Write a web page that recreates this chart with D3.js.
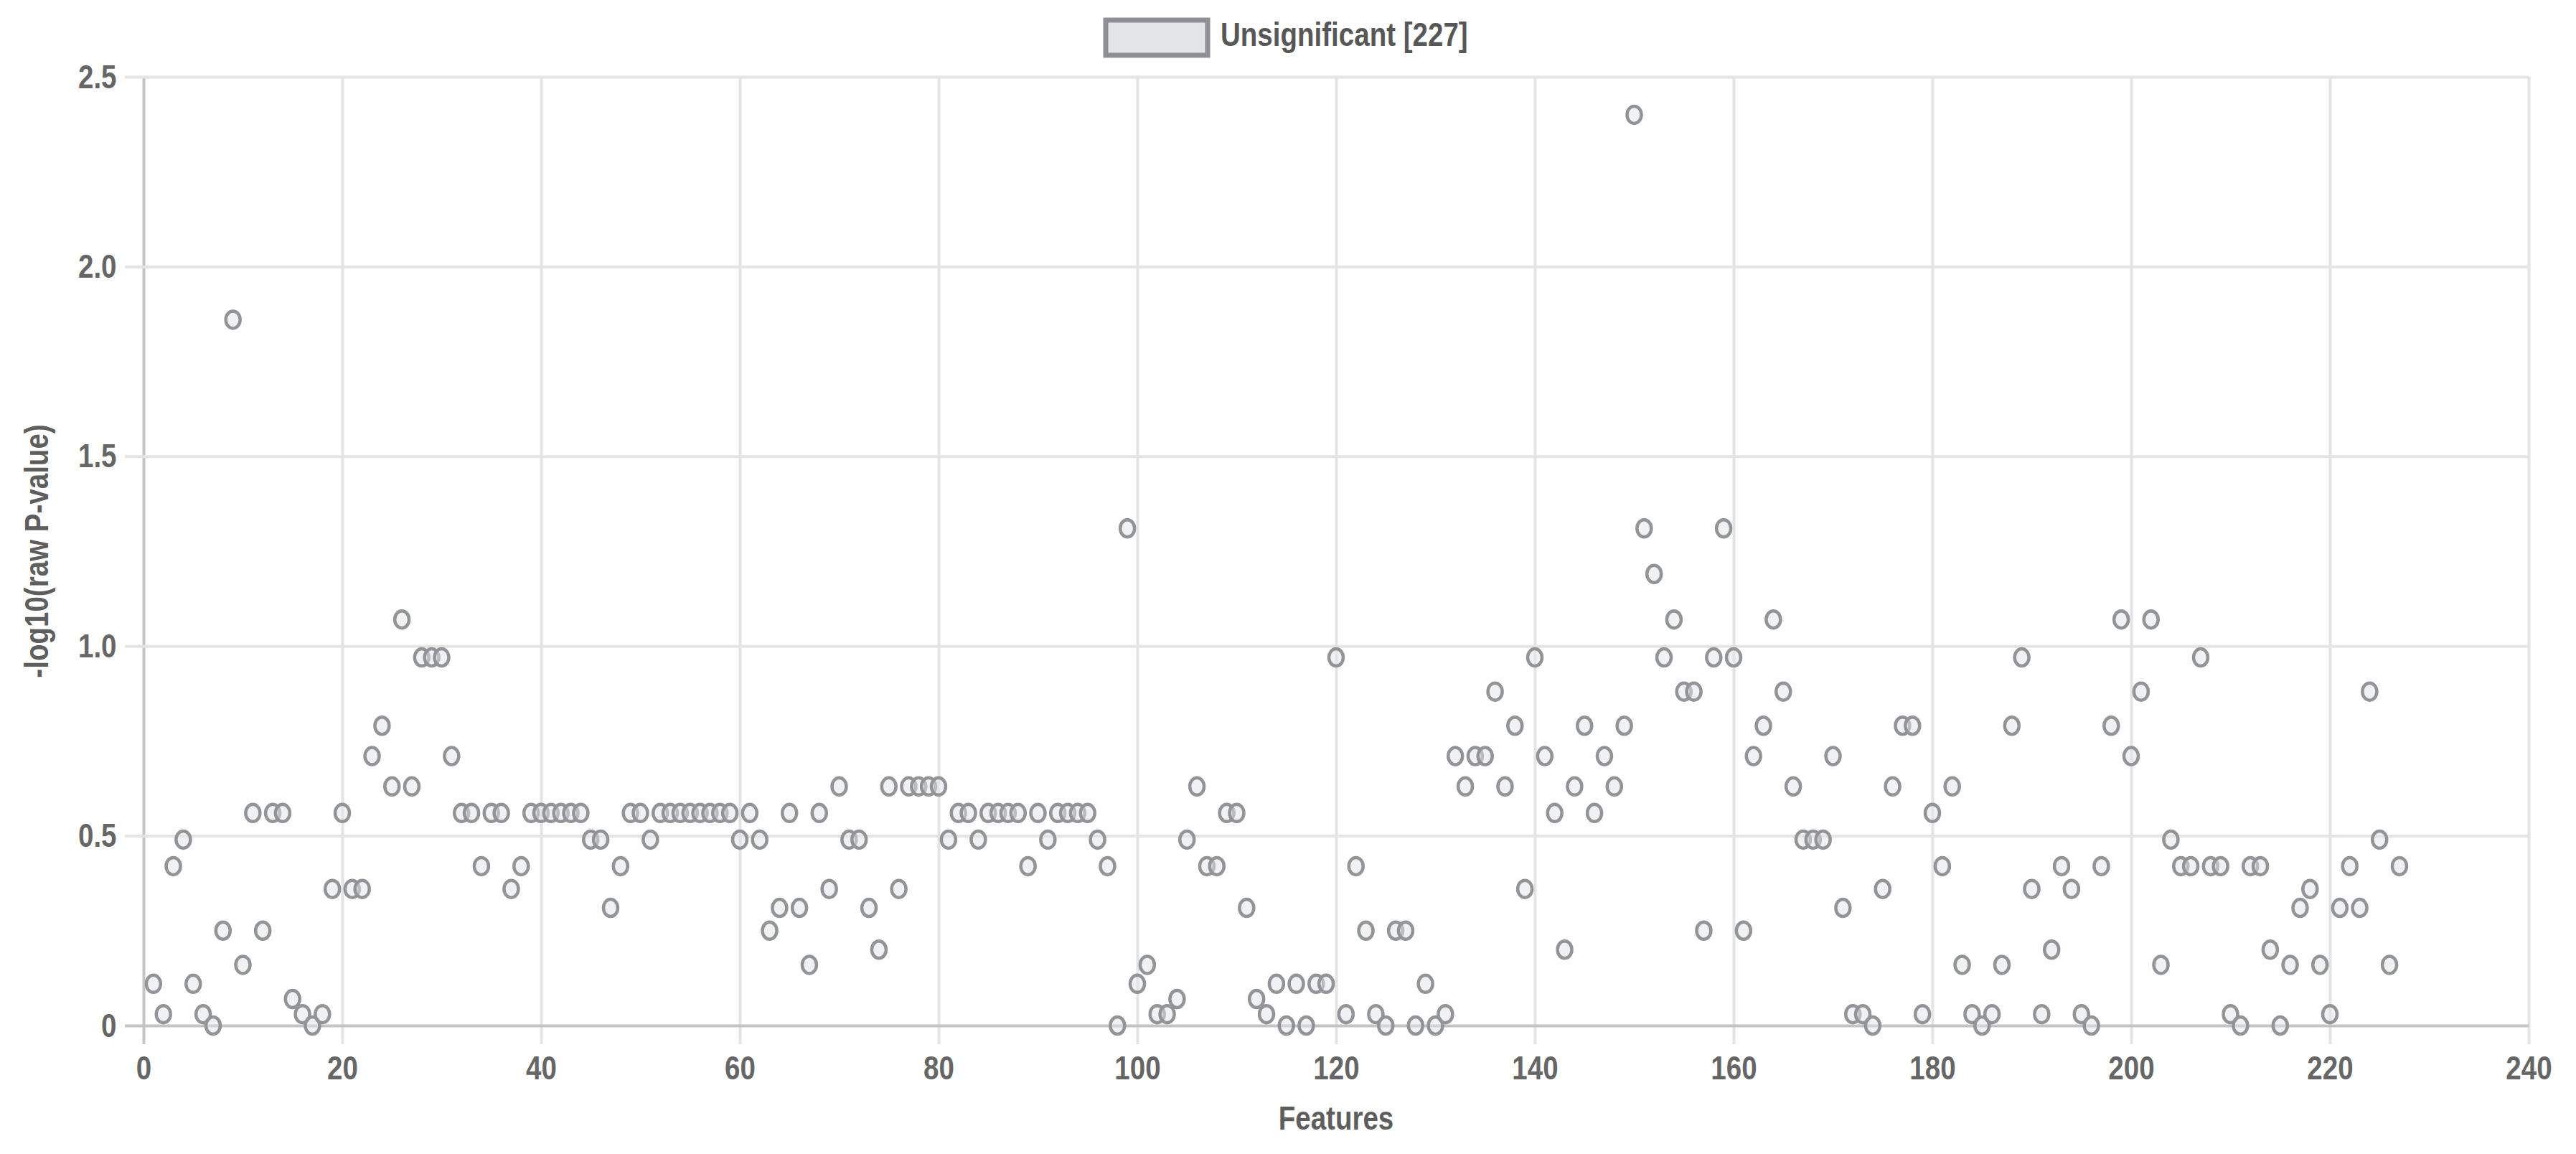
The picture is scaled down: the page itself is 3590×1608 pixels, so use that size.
<!DOCTYPE html>
<html>
<head>
<meta charset="utf-8">
<script src="https://cdn.jsdelivr.net/npm/d3@7/dist/d3.min.js"></script>
<style>
    html, body { margin: 0; padding: 0; background: #fff; }
    text { font-family: "Liberation Sans", Arial, Helvetica, sans-serif; }
</style>
</head>
<body>
<div id="chart"></div>
<script>
// -log10(raw P-value) for features 1..227
const pvalues = [
    0.11, 0.03, 0.42, 0.49, 0.11, 0.03, 0, 0.25, 1.86, 0.16,
    0.56, 0.25, 0.56, 0.56, 0.07, 0.03, 0, 0.03, 0.36, 0.56,
    0.36, 0.36, 0.71, 0.79, 0.63, 1.07, 0.63, 0.97, 0.97, 0.97,
    0.71, 0.56, 0.56, 0.42, 0.56, 0.56, 0.36, 0.42, 0.56, 0.56,
    0.56, 0.56, 0.56, 0.56, 0.49, 0.49, 0.31, 0.42, 0.56, 0.56,
    0.49, 0.56, 0.56, 0.56, 0.56, 0.56, 0.56, 0.56, 0.56, 0.49,
    0.56, 0.49, 0.25, 0.31, 0.56, 0.31, 0.16, 0.56, 0.36, 0.63,
    0.49, 0.49, 0.31, 0.2, 0.63, 0.36, 0.63, 0.63, 0.63, 0.63,
    0.49, 0.56, 0.56, 0.49, 0.56, 0.56, 0.56, 0.56, 0.42, 0.56,
    0.49, 0.56, 0.56, 0.56, 0.56, 0.49, 0.42, 0, 1.31, 0.11,
    0.16, 0.03, 0.03, 0.07, 0.49, 0.63, 0.42, 0.42, 0.56, 0.56,
    0.31, 0.07, 0.03, 0.11, 0, 0.11, 0, 0.11, 0.11, 0.97,
    0.03, 0.42, 0.25, 0.03, 0, 0.25, 0.25, 0, 0.11, 0,
    0.03, 0.71, 0.63, 0.71, 0.71, 0.88, 0.63, 0.79, 0.36, 0.97,
    0.71, 0.56, 0.2, 0.63, 0.79, 0.56, 0.71, 0.63, 0.79, 2.4,
    1.31, 1.19, 0.97, 1.07, 0.88, 0.88, 0.25, 0.97, 1.31, 0.97,
    0.25, 0.71, 0.79, 1.07, 0.88, 0.63, 0.49, 0.49, 0.49, 0.71,
    0.31, 0.03, 0.03, 0, 0.36, 0.63, 0.79, 0.79, 0.03, 0.56,
    0.42, 0.63, 0.16, 0.03, 0, 0.03, 0.16, 0.79, 0.97, 0.36,
    0.03, 0.2, 0.42, 0.36, 0.03, 0, 0.42, 0.79, 1.07, 0.71,
    0.88, 1.07, 0.16, 0.49, 0.42, 0.42, 0.97, 0.42, 0.42, 0.03,
    0, 0.42, 0.42, 0.2, 0, 0.16, 0.31, 0.36, 0.16, 0.03,
    0.31, 0.42, 0.31, 0.88, 0.49, 0.16, 0.42
]
const features = d3.range(1, pvalues.length + 1)

const xTicks = d3.range(0, 241, 20)
const yTicks = [0, 0.5, 1.0, 1.5, 2.0, 2.5]

const legendLabel = "Unsignificant [" + pvalues.length + "]"
const xTitle = "Features"
const yTitle = "-log10(raw P-value)"

const width = 3590
const height = 1608
const margin = {top: 107, right: 66, bottom: 179, left: 200}
const tickLen = 26
// the original picture is squeezed sideways, so squeeze the glyphs too
const squeeze = "scale(0.82,1)"

const x = d3.scaleLinear()
    .domain([0, 240])
    .range([margin.left, width - margin.right])

const y = d3.scaleLinear()
    .domain([0, 2.5])
    .range([height - margin.bottom, margin.top])

const plotW = x.range()[1] - x.range()[0]
const plotH = y.range()[0] - y.range()[1]

const svg = d3.select("#chart").append("svg")
    .attr("width", width)
    .attr("height", height)
    .attr("viewBox", [0, 0, width, height])

// vertical grid + x ticks (lines reach a bit below the plot like chart.js)
const gx = svg.append("g")
    .attr("transform", `translate(0,${y(0) + tickLen})`)
    .call(d3.axisBottom(x)
        .tickValues(xTicks)
        .tickSize(-(plotH + tickLen))
        .tickPadding(16)
        .tickFormat(d3.format("d")))

// horizontal grid + y ticks
const gy = svg.append("g")
    .attr("transform", `translate(${x(0) - tickLen},0)`)
    .call(d3.axisLeft(y)
        .tickValues(yTicks)
        .tickSize(-(plotW + tickLen))
        .tickPadding(14)
        .tickFormat(d => d === 0 ? "0" : d.toFixed(1)))

for (const g of [gx, gy]) {
    g.select(".domain").remove()
    g.selectAll(".tick line")
        .attr("stroke", d => d === 0 ? "#c4c4c4" : "#e4e4e4")
        .attr("stroke-width", 4)
    g.selectAll(".tick text")
        .attr("fill", "#666")
        .attr("font-size", 47)
        .attr("font-weight", "bold")
        .attr("transform", squeeze)
}

// zero lines on top of other grid lines
gx.selectAll(".tick").filter(d => d === 0).raise()
gy.selectAll(".tick").filter(d => d === 0).raise()

// points
svg.append("g")
    .selectAll("ellipse")
    .data(features)
    .join("ellipse")
    .attr("cx", (d, i) => x(d))
    .attr("cy", (d, i) => y(pvalues[i]))
    .attr("rx", 10)
    .attr("ry", 12)
    .attr("fill", "rgba(225,228,232,0.5)")
    .attr("stroke", "#929498")
    .attr("stroke-width", 4.5)

// axis titles
svg.append("text")
    .attr("transform", `translate(${(x.range()[0] + x.range()[1]) / 2},1562) ${squeeze}`)
    .attr("text-anchor", "middle")
    .attr("dominant-baseline", "middle")
    .attr("font-size", 47)
    .attr("font-weight", "bold")
    .attr("fill", "#5e5e5e")
    .text(xTitle)

svg.append("text")
    .attr("transform", `translate(55,${(y.range()[0] + y.range()[1]) / 2}) rotate(-90) ${squeeze}`)
    .attr("text-anchor", "middle")
    .attr("dominant-baseline", "middle")
    .attr("font-size", 47)
    .attr("font-weight", "bold")
    .attr("fill", "#5e5e5e")
    .text(yTitle)

// legend
const legend = svg.append("g")
legend.append("rect")
    .attr("x", 1541)
    .attr("y", 28)
    .attr("width", 142)
    .attr("height", 49)
    .attr("fill", "#e3e6e9")
    .attr("stroke", "#8e8f92")
    .attr("stroke-width", 7)
legend.append("text")
    .attr("transform", `translate(1701,52) ${squeeze}`)
    .attr("dominant-baseline", "middle")
    .attr("font-size", 47)
    .attr("font-weight", "bold")
    .attr("fill", "#575757")
    .text(legendLabel)
</script>
</body>
</html>
